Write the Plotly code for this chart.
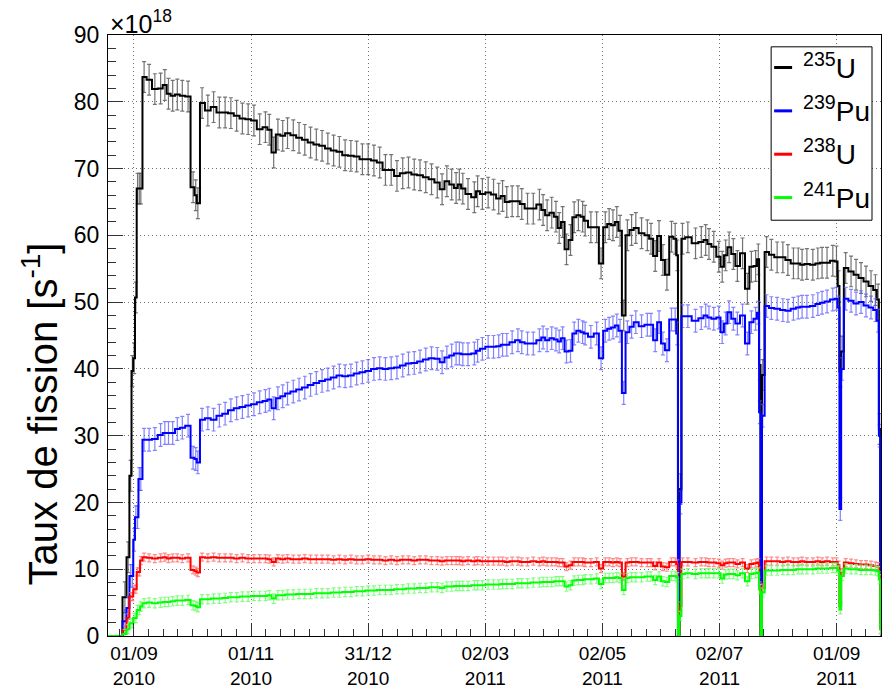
import pandas as pd
import plotly.graph_objects as go

FONT = "Liberation Sans, Arial, Helvetica, sans-serif"

# Bin centres in days after 01/09/2010
days = [
    -14.0, -10.0, -7.2, -4.7, -3.0, -1.7, -0.8, 0.1, 1.0, 1.9, 2.8, 3.6,
    5.3, 7.9, 10.9, 13.9, 16.1, 18.0, 20.2, 22.6, 25.2, 28.2, 30.8, 32.2, 33.3,
    35.5, 38.5, 41.5, 44.5, 47.5, 50.5, 53.5, 56.5, 59.5, 62.5, 65.5, 68.5, 70.5, 72.8, 75.0,
    77.5, 80.0, 83.0, 86.0, 89.0, 92.0, 95.0, 98.0, 101.0, 104.0, 107.0, 110.0, 113.0, 116.0,
    119.0, 122.0, 125.0, 128.0, 131.0, 134.0, 137.0, 140.0, 143.0, 146.0, 149.0,
    152.0, 155.0, 158.0, 160.5, 163.0, 165.5, 167.8, 169.5, 171.3, 174.0, 177.3, 179.0,
    181.5, 184.5, 187.3, 190.0, 192.0, 194.2, 197.0, 200.0, 202.0, 205.0, 208.0, 211.2,
    213.1, 215.2, 217.6, 219.8, 221.5, 223.3, 225.3, 227.4, 229.3, 231.5, 233.7,
    235.0, 238.0, 241.0, 243.3, 245.5, 247.5, 249.5, 251.5, 253.2, 255.1, 257.0, 259.2,
    261.4, 264.4, 267.4, 269.3, 271.5, 273.5, 275.5, 277.6, 280.0, 281.9, 283.0, 283.7, 284.6,
    285.7, 288.5, 292.5, 295.5, 297.8, 299.5, 302.0, 304.6, 306.4, 308.2, 310.0, 312.2,
    314.3, 317.0, 319.5, 321.6, 323.8, 325.2, 326.0, 326.7, 327.5,
    329.5, 332.0, 335.0, 338.0, 340.6, 343.5, 346.0, 348.0, 350.5, 353.6, 356.2, 358.4,
    361.0, 364.0, 365.9, 367.0, 367.9, 368.8, 370.7, 373.5, 376.1, 378.7, 381.3, 383.9,
    386.2, 387.6, 388.4, 389.0,
]

# Fission rates, x10^18 s^-1
u235 = [
    0, 0, 0, 5.8, 11.8, 24.0, 39.7, 41.6, 50.7, 67.0, 67.0, 67.0,
    83.7, 83.3, 81.9, 82.0, 82.5, 81.2, 80.9, 81.1, 80.9, 80.8, 67.2, 66.0, 64.8,
    79.8, 78.7, 79.2, 78.4, 78.4, 78.3, 77.9, 77.5, 77.4, 77.2, 75.9, 76.2, 75.8, 72.4, 75.1,
    74.9, 75.3, 75.0, 74.6, 74.3, 73.9, 73.6, 73.4, 73.0, 72.7, 72.5, 72.0, 71.9, 71.8,
    71.4, 71.4, 71.2, 70.9, 69.8, 69.8, 68.9, 69.3, 69.4, 69.1, 69.0,
    68.7, 68.4, 67.9, 66.9, 68.1, 67.6, 67.1, 67.6, 67.0, 66.2, 65.7, 66.6,
    66.2, 66.4, 66.1, 65.5, 65.9, 65.0, 65.1, 65.1, 64.7, 64.0, 64.0, 64.6,
    63.8, 63.0, 63.4, 62.8, 61.1, 62.0, 57.9, 59.3, 62.7, 63.0, 62.8,
    62.2, 61.2, 61.2, 55.8, 61.2, 61.7, 61.5, 62.0, 60.7, 48.0, 60.0, 60.8,
    61.1, 60.3, 60.0, 59.5, 56.9, 59.9, 56.3, 54.1, 59.8, 59.5, 57.0, 0, 22.0,
    59.5, 59.7, 58.8, 59.0, 59.3, 58.7, 58.3, 56.8, 55.3, 57.0, 58.2, 57.2,
    55.4, 57.3, 52.0, 55.3, 55.4, 56.4, 40.6, 0, 39.1,
    57.5, 57.1, 56.7, 56.7, 56.3, 55.8, 55.8, 55.6, 55.7, 55.6, 55.8, 55.9,
    55.9, 56.2, 56.1, 52.4, 39.6, 42.6, 55.1, 54.6, 54.1, 53.6, 53.1, 52.4,
    51.8, 50.4, 31.0, 1.5,
]
pu239 = [
    0, 0, 0, 2.2, 4.2, 9.0, 9.0, 14.4, 17.8, 17.8, 23.5, 23.5,
    29.4, 29.4, 29.5, 30.1, 30.4, 30.4, 30.4, 31.0, 31.2, 31.5, 26.7, 26.5, 26.0,
    32.4, 32.6, 32.4, 33.0, 33.3, 33.8, 34.1, 34.3, 34.5, 34.7, 35.0, 35.2, 35.4, 34.1, 35.6,
    35.9, 36.3, 36.6, 36.9, 37.2, 37.6, 37.9, 38.2, 38.4, 38.7, 39.0, 38.9, 39.0, 39.3,
    39.5, 39.7, 40.0, 40.1, 40.0, 40.1, 40.2, 40.5, 40.8, 40.9, 41.1,
    41.4, 41.6, 41.5, 41.0, 41.7, 42.0, 42.3, 42.3, 42.2, 42.2, 42.3, 42.7,
    43.0, 43.3, 43.3, 43.4, 43.6, 43.6, 44.0, 44.3, 44.0, 43.8, 43.8, 44.3,
    44.7, 44.3, 44.6, 44.4, 44.1, 44.6, 42.6, 42.7, 45.3, 45.7, 45.5,
    45.3, 44.8, 45.3, 41.6, 45.7, 46.0, 46.2, 46.5, 45.7, 36.4, 45.5, 46.3,
    47.0, 46.4, 46.6, 46.6, 44.3, 47.0, 43.8, 42.8, 47.4, 47.4, 45.3, 0, 20.0,
    47.9, 47.9, 47.2, 47.6, 48.0, 47.7, 47.5, 47.7, 45.5, 46.8, 48.5, 47.5,
    46.8, 48.0, 43.8, 47.0, 47.5, 48.4, 33.5, 0, 33.0,
    49.4, 49.1, 49.0, 48.8, 48.7, 49.0, 49.2, 49.3, 49.3, 49.4, 49.7, 49.9,
    50.1, 50.4, 50.5, 49.2, 19.0, 40.0, 50.5, 50.2, 49.8, 50.0, 49.5, 49.2,
    48.8, 47.2, 30.0, 1.5,
]
u238 = [
    0, 0, 0, 0.9, 2.7, 5.9, 5.9, 7.0, 7.0, 9.6, 9.6, 11.3,
    11.8, 11.7, 11.6, 11.7, 11.8, 11.6, 11.7, 11.7, 11.6, 11.7, 9.9, 9.7, 9.5,
    11.8, 11.7, 11.8, 11.7, 11.7, 11.7, 11.6, 11.7, 11.6, 11.6, 11.6, 11.6, 11.5, 11.1, 11.6,
    11.5, 11.6, 11.5, 11.5, 11.6, 11.5, 11.5, 11.5, 11.5, 11.4, 11.5, 11.4, 11.5, 11.4,
    11.4, 11.5, 11.4, 11.4, 11.3, 11.4, 11.3, 11.4, 11.4, 11.3, 11.4,
    11.4, 11.3, 11.3, 11.2, 11.3, 11.3, 11.3, 11.3, 11.2, 11.3, 11.2, 11.3,
    11.2, 11.2, 11.2, 11.2, 11.2, 11.1, 11.2, 11.2, 11.1, 11.1, 11.2, 11.1,
    11.2, 11.1, 11.1, 11.1, 11.0, 11.0, 10.4, 10.6, 11.1, 11.1, 11.1,
    11.0, 11.0, 11.1, 10.1, 11.1, 11.1, 11.0, 11.1, 11.0, 8.9, 11.0, 11.1,
    11.1, 11.0, 11.0, 11.0, 10.5, 11.0, 10.4, 10.3, 11.1, 11.1, 10.8, 0, 4.5,
    11.1, 11.1, 11.0, 11.1, 11.1, 11.0, 11.0, 10.9, 10.6, 10.9, 11.0, 11.0,
    10.8, 11.0, 10.1, 10.8, 10.9, 11.0, 7.5, 0, 7.2,
    11.2, 11.2, 11.2, 11.1, 11.2, 11.1, 11.1, 11.2, 11.1, 11.1, 11.2, 11.1,
    11.2, 11.1, 11.1, 10.6, 4.5, 9.5, 11.0, 10.9, 10.8, 10.7, 10.7, 10.6,
    10.5, 10.4, 9.0, 1.0,
]
pu241 = [
    0, 0, 0, 0.3, 1.0, 1.9, 1.9, 2.7, 2.7, 3.9, 3.9, 4.4,
    4.9, 5.0, 4.9, 5.0, 5.1, 5.1, 5.2, 5.3, 5.3, 5.4, 4.6, 4.5, 4.3,
    5.5, 5.5, 5.6, 5.6, 5.7, 5.8, 5.8, 5.9, 5.9, 6.0, 6.0, 6.0, 6.1, 5.6, 6.1,
    6.1, 6.2, 6.2, 6.3, 6.3, 6.3, 6.4, 6.4, 6.4, 6.5, 6.5, 6.6, 6.6, 6.7,
    6.7, 6.8, 6.8, 6.9, 6.9, 6.9, 7.0, 7.0, 7.1, 7.1, 7.2,
    7.2, 7.3, 7.3, 7.2, 7.4, 7.4, 7.5, 7.5, 7.5, 7.5, 7.6, 7.6,
    7.6, 7.7, 7.7, 7.7, 7.8, 7.8, 7.8, 7.9, 7.9, 7.9, 8.0, 8.0,
    8.1, 8.1, 8.1, 8.2, 8.2, 8.2, 7.4, 7.6, 8.3, 8.4, 8.4,
    8.5, 8.5, 8.6, 7.8, 8.7, 8.7, 8.7, 8.8, 8.7, 6.9, 8.7, 8.8,
    8.8, 8.8, 8.9, 8.9, 8.4, 8.9, 8.2, 8.1, 9.0, 9.0, 8.8, 0, 3.0,
    9.3, 9.4, 9.3, 9.4, 9.4, 9.4, 9.4, 9.4, 8.6, 9.2, 9.3, 9.3,
    9.1, 9.4, 8.2, 9.3, 9.4, 9.5, 7.0, 0, 6.5,
    9.8, 9.8, 9.8, 9.9, 9.9, 9.9, 10.0, 10.0, 10.0, 10.0, 10.1, 10.1,
    10.1, 10.2, 10.2, 9.8, 4.0, 9.0, 10.1, 10.0, 10.0, 9.9, 9.9, 9.9,
    9.8, 9.7, 8.5, 1.0,
]

# Per-bin uncertainty of each isotope, x10^18 s^-1
u235_err = 2.3
pu239_err = 1.7
u238_err = 0.6
pu241_err = 0.7

names = ["<sup>235</sup>U", "<sup>239</sup>Pu", "<sup>238</sup>U", "<sup>241</sup>Pu"]

tick_days = [0, 61, 122, 183, 244, 305, 366]
tick_labels = ["01/09<br>2010", "01/11<br>2010", "31/12<br>2010", "02/03<br>2011",
               "02/05<br>2011", "02/07<br>2011", "01/09<br>2011"]

origin = pd.Timestamp("2010-09-01")


def as_dates(offsets):
    return [origin + pd.Timedelta(days=float(d)) for d in offsets]


x_dates = as_dates(days)
minor_days = [k * 61 / 8 for k in range(-1, 52) if k % 8 != 0]

series = [
    (names[0], u235, u235_err, "#000000", "rgba(90,90,90,0.85)"),
    (names[1], pu239, pu239_err, "#0000ff", "rgba(90,90,255,0.75)"),
    (names[2], u238, u238_err, "#ff0000", "rgba(255,110,110,0.8)"),
    (names[3], pu241, pu241_err, "#00ff00", "rgba(110,255,110,0.85)"),
]

fig = go.Figure()
for name, vals, err, col, ecol in series:
    fig.add_trace(go.Scatter(
        x=x_dates, y=vals, name=name, mode="lines",
        line=dict(color=col, width=2, shape="hvh"),
        error_y=dict(type="data", array=[err if v > 0 else 0 for v in vals],
                     color=ecol, thickness=1.2, width=2),
        showlegend=False, hoverinfo="skip",
    ))


# Hand-drawn legend box in the upper right corner of the frame
def px_x(px):
    return (px - 108) / 774


def px_y(py):
    return (645 - py) / 610


shapes = [dict(type="rect", xref="paper", yref="paper",
               x0=px_x(772), x1=px_x(873), y0=px_y(223), y1=px_y(47),
               line=dict(color="black", width=1), fillcolor="white", layer="above")]
annotations = []
rows = [68, 112, 156, 200]
for (name, _, _, col, _), row in zip(series, rows):
    shapes.append(dict(type="line", xref="paper", yref="paper",
                       x0=px_x(775), x1=px_x(793), y0=px_y(row), y1=px_y(row),
                       line=dict(color=col, width=3), layer="above"))
    annotations.append(dict(xref="paper", yref="paper", x=px_x(802), y=px_y(row - 2),
                            xanchor="left", yanchor="middle", showarrow=False,
                            text=name, font=dict(family=FONT, size=28, color="black")))

annotations.append(dict(xref="paper", yref="paper", x=0, y=1, xanchor="left",
                        yanchor="bottom", yshift=-5, showarrow=False,
                        text="×10<sup>18</sup>",
                        font=dict(family=FONT, size=25, color="black")))
annotations.append(dict(xref="paper", yref="paper", x=px_x(40), y=px_y(420),
                        xanchor="center", yanchor="middle", textangle=-90,
                        showarrow=False, text="Taux de fission [s<sup>-1</sup>]",
                        font=dict(family=FONT, size=40, color="black")))

axis_common = dict(
    showline=True, linecolor="black", linewidth=1, mirror=True,
    ticks="inside", tickcolor="#333333", tickwidth=1,
    showgrid=True, gridcolor="#707070", griddash="1px,3px", gridwidth=1,
    zeroline=False,
)

fig.update_layout(
    width=886, height=693,
    margin=dict(l=108, r=4, t=35, b=48),
    paper_bgcolor="white", plot_bgcolor="white",
    font=dict(family=FONT, color="black"),
    shapes=shapes, annotations=annotations,
    xaxis=dict(
        type="date", range=as_dates([-13.5, 389.1]),
        tickmode="array", tickvals=as_dates(tick_days), ticktext=tick_labels,
        ticklen=13, tickfont=dict(family=FONT, size=19, color="black"),
        ticklabelstandoff=0,
        minor=dict(tickmode="array", tickvals=as_dates(minor_days), ticks="inside",
                   ticklen=7, tickcolor="#333333", showgrid=False),
        **axis_common,
    ),
    yaxis=dict(
        range=[0, 90], tick0=0, dtick=10, ticklen=15,
        tickfont=dict(family=FONT, size=23, color="black"),
        ticklabelstandoff=3,
        minor=dict(dtick=2, ticks="inside", ticklen=8, tickcolor="#333333", showgrid=False),
        **axis_common,
    ),
)

fig.write_html("out.html")
